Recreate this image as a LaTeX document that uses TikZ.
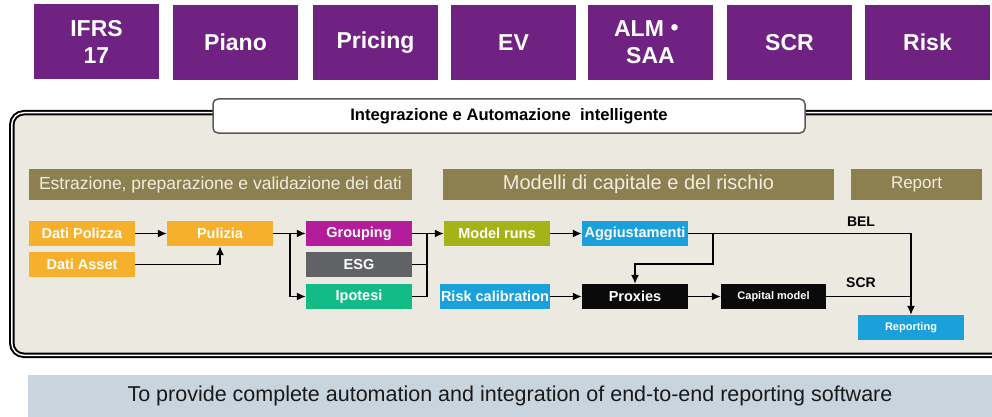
\documentclass[tikz,border=0pt]{standalone}
\usepackage{fontspec}
\setmainfont{Liberation Sans}
\newfontfamily\cjk{Noto Sans CJK JP}
\usetikzlibrary{arrows.meta}
\definecolor{purp}{HTML}{6F2282}
\definecolor{bgc}{HTML}{ECE9E1}
\definecolor{olv}{HTML}{8C7F50}
\definecolor{hdrtxt}{HTML}{F2EEDF}
\definecolor{orng}{HTML}{F7B02B}
\definecolor{mag}{HTML}{B31D9B}
\definecolor{esgc}{HTML}{606266}
\definecolor{grn}{HTML}{13BC87}
\definecolor{lime}{HTML}{A5B318}
\definecolor{blu}{HTML}{1AA0DA}
\definecolor{blk}{HTML}{0A0A0A}
\definecolor{bann}{HTML}{C9D5DE}
\tikzset{
  topbox/.style={fill=purp, text=white, font=\fontsize{23}{27}\selectfont\bfseries, minimum width=125pt, minimum height=75pt, align=center, inner sep=0pt},
  flowbox/.style={minimum width=106pt, minimum height=25pt, inner sep=0pt, text=white, font=\fontsize{14.5}{16}\selectfont\bfseries},
  smallbox/.style={flowbox, font=\fontsize{11}{13}\selectfont\bfseries},
  hdr/.style={fill=olv, text=hdrtxt, minimum height=31pt, inner sep=0pt},
  arr/.style={-{Latex[length=9pt,width=8pt]}, line width=1.5pt},
  ln/.style={line width=1.5pt},
  lbl/.style={font=\fontsize{14}{16}\selectfont\bfseries, inner sep=0pt}
}
\begin{document}
\begin{tikzpicture}[x=1pt,y=-1pt]
\useasboundingbox (0,0) rectangle (992,417);
\clip (0,0) rectangle (992,417);
% top boxes
\node[topbox] (ifrs) at (96.5,41.5) {IFRS\\17};
\node[topbox] (piano) at (235.5,42.5) {Piano};
\node[topbox] (pricing) at (375.5,42.5) {Pricing};
\node[topbox] (ev) at (513.5,42.5) {EV};
\node[topbox] (alm) at (650.5,42.5) {ALM{\cjk\bfseries ・}\\SAA};
\node[topbox] (scr) at (789.5,42.5) {SCR};
\node[topbox] (risk) at (927.5,42.5) {Risk};
% frame
\draw[fill=bgc, line width=2pt, double=white, double distance=1.4pt, rounded corners=12pt] (11.8,112.7) rectangle (1010,355.3);
% title
\node[fill=white, draw=black!65, line width=1.5pt, rounded corners=5pt, minimum width=592pt, minimum height=34pt, inner sep=0pt, font=\fontsize{16.6}{18}\selectfont\bfseries] (title) at (509,116) {Integrazione e Automazione\ \ intelligente};
% headers
\node[hdr, minimum width=383pt, font=\fontsize{17.5}{20}\selectfont] (hest) at (220.5,184.5) {Estrazione, preparazione e validazione dei dati};
\node[hdr, minimum width=391pt, font=\fontsize{20}{22}\selectfont] (hmod) at (638.5,184.5) {Modelli di capitale e del rischio};
\node[hdr, minimum width=131pt, font=\fontsize{17}{20}\selectfont] (hrep) at (916.5,184.5) {Report};
% flow nodes
\node[flowbox, fill=orng] (pol) at (82,233.5) {Dati Polizza};
\node[flowbox, fill=orng] (pul) at (220,233.5) {Pulizia};
\node[flowbox, fill=orng] (ast) at (82,264.5) {Dati Asset};
\node[flowbox, fill=mag] (grp) at (359,233.5) {Grouping};
\node[flowbox, fill=esgc] (esg) at (359,264.5) {ESG};
\node[flowbox, fill=grn] (ipo) at (359,296.5) {Ipotesi};
\node[flowbox, fill=lime] (mr) at (497,233.5) {Model runs};
\node[flowbox, fill=blu] (agg) at (635,233.5) {Aggiustamenti};
\node[flowbox, fill=blu, minimum width=110pt] (rc) at (495,296.5) {Risk calibration};
\node[flowbox, fill=blk] (prx) at (635,296.5) {Proxies};
\node[smallbox, fill=blk, minimum width=105pt] (cap) at (773.5,296.5) {Capital model};
\node[smallbox, fill=blu] (rep) at (911,327.5) {Reporting};
\node[lbl] (bel) at (861,222) {BEL};
\node[lbl] (scrl) at (861,283) {SCR};
% junctions
\coordinate (j2) at (290,233.5);
\coordinate (j3) at (427,233.5);
\coordinate (j1) at (713,264);
% connectors
\draw[arr] (pol) -- (pul);
\draw[arr] (ast.east) -| (pul.south);
\draw[arr] (pul) -- (grp);
\draw[arr] (j2) |- (ipo.west);
\draw[arr] (grp) -- (mr);
\draw[ln] (esg.east) -- (esg.east -| j3);
\draw[ln] (ipo.east) -| (j3);
\draw[arr] (mr) -- (agg);
\draw[arr] (agg.east) -| (rep.north);
\draw[arr] (agg.east -| j1) -- (j1) -| (prx.north);
\draw[arr] (rc) -- (prx);
\draw[arr] (prx) -- (cap);
\draw[ln] (cap.east) -- (cap.east -| rep.north);
% banner
\node[fill=bann, minimum width=964pt, minimum height=42pt, inner sep=0pt, text=black!90, font=\fontsize{21.5}{24}\selectfont] (ban) at (510,396) {To provide complete automation and integration of end-to-end reporting software};
\end{tikzpicture}
\end{document}
